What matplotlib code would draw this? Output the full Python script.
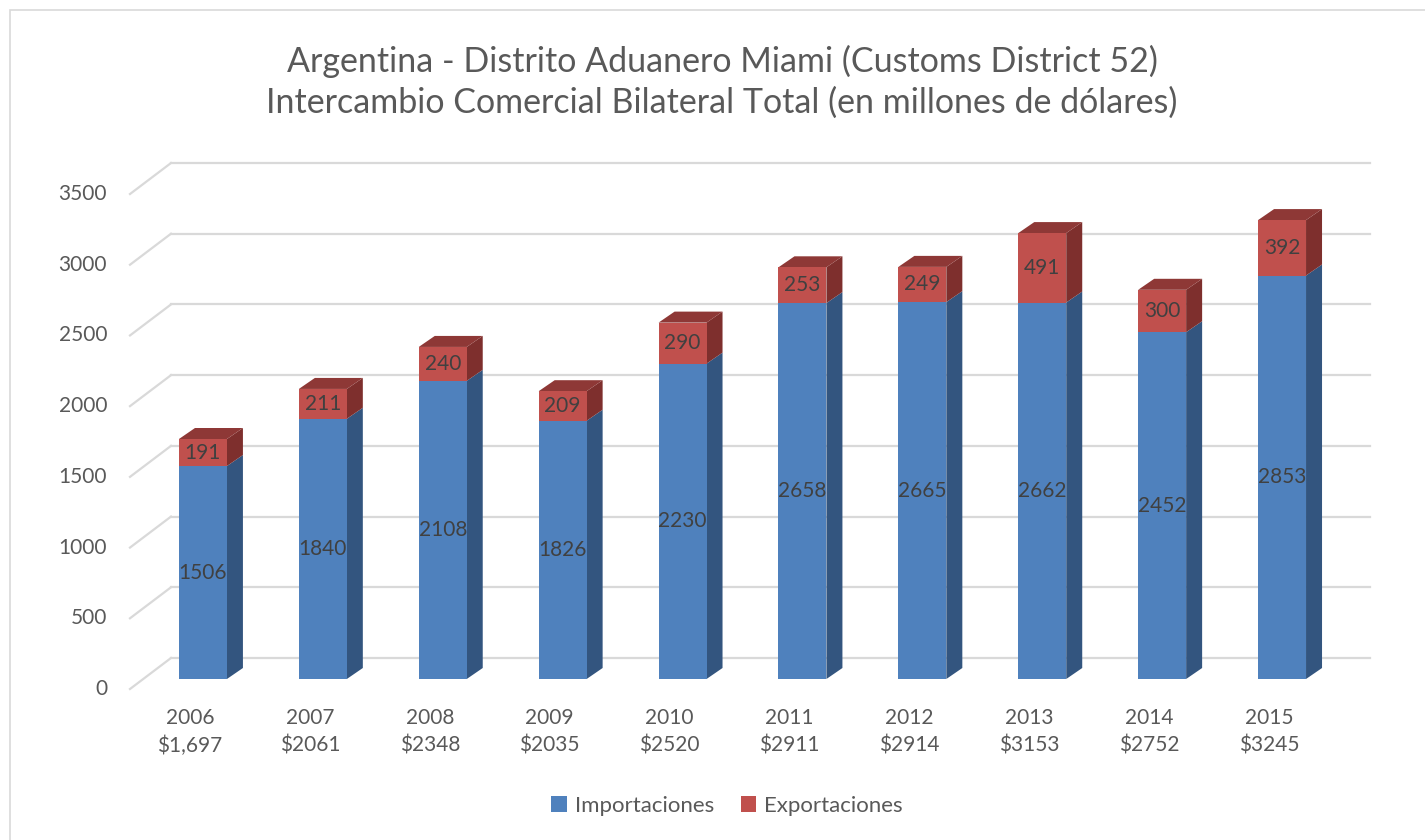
import matplotlib
matplotlib.use("Agg")
import matplotlib.pyplot as plt
from matplotlib.patches import Polygon, Rectangle

plt.rcParams['font.family'] = ['Lato', 'DejaVu Sans']

# ---- data ----
years = ['2006', '2007', '2008', '2009', '2010', '2011', '2012', '2013', '2014', '2015']
totals = ['$1,697', '$2061', '$2348', '$2035', '$2520', '$2911', '$2914', '$3153', '$2752', '$3245']
importaciones = [1506, 1840, 2108, 1826, 2230, 2658, 2665, 2662, 2452, 2853]
exportaciones = [191, 211, 240, 209, 290, 253, 249, 491, 300, 392]
yticks = [0, 500, 1000, 1500, 2000, 2500, 3000, 3500]
title = ("Argentina - Distrito Aduanero Miami (Customs District 52)\n"
         "Intercambio Comercial Bilateral Total (en millones de dólares)")

# ---- style ----
BLUE, BLUE_SIDE = '#4F81BD', '#33557F'
RED, RED_SIDE, RED_TOP = '#C0504D', '#7E2F2D', '#8E3836'
GRID = '#D9D9D9'
TXT = '#595959'
LBL = '#404040'
FS = 15

W, H = 1425, 840
fig = plt.figure(figsize=(W / 100, H / 100), dpi=100)
fig.patch.set_facecolor('white')

# chart border
fig.patches.append(Rectangle((10 / W, -0.05), 1.1, (H - 10) / H + 0.05,
                             transform=fig.transFigure, fill=False,
                             edgecolor=GRID, lw=1.2))

ax = fig.add_axes([143 / W, (H - 679) / H, 1199 / W, 516.2 / H])
ax.set_xlim(-0.5, 9.5)
ax.set_ylim(0, 3650)
ax.axis('off')

p0 = ax.transData.transform((0, 0))
p1 = ax.transData.transform((1, 1))
px_x = p1[0] - p0[0]
px_y = p1[1] - p0[1]


def dx(px):
    return px / px_x


def dy(px):
    return px / px_y


x = list(range(len(years)))
bw = 0.4

# back wall grid + floor diagonals
front_off = (dx(-13), dy(-10))
back_off = (dx(28), dy(21))
for v in yticks:
    ax.plot([-0.5 + back_off[0], 9.5 + back_off[0]], [v + back_off[1]] * 2,
            color=GRID, lw=1.6, clip_on=False, zorder=1)
    ax.plot([-0.5 + front_off[0], -0.5 + back_off[0]],
            [v + front_off[1], v + back_off[1]],
            color=GRID, lw=1.6, clip_on=False, zorder=1)
    ax.text(-0.5 + front_off[0] + dx(-23), v + front_off[1], str(v),
            ha='right', va='center', fontsize=FS, color=TXT)

# bars
b1 = ax.bar(x, importaciones, width=bw, color=BLUE, label='Importaciones', zorder=3)
b2 = ax.bar(x, exportaciones, width=bw, bottom=importaciones, color=RED,
            label='Exportaciones', zorder=3)

ddx, ddy = dx(16), dy(11)
for i, (imp, exp) in enumerate(zip(importaciones, exportaciones)):
    xr = i + bw / 2
    xl = i - bw / 2
    top = imp + exp
    # side faces
    ax.add_patch(Polygon([(xr, 0), (xr + ddx, ddy), (xr + ddx, imp + ddy), (xr, imp)],
                         closed=True, color=BLUE_SIDE, lw=0, zorder=2))
    ax.add_patch(Polygon([(xr, imp), (xr + ddx, imp + ddy), (xr + ddx, top + ddy), (xr, top)],
                         closed=True, color=RED_SIDE, lw=0, zorder=2))
    # top face
    ax.add_patch(Polygon([(xl, top), (xr, top), (xr + ddx, top + ddy), (xl + ddx, top + ddy)],
                         closed=True, color=RED_TOP, lw=0, zorder=2))
    # labels
    ax.text(i, imp / 2, str(imp), ha='center', va='center', fontsize=FS,
            color=LBL, zorder=5)
    ax.text(i, imp + exp / 2, str(exp), ha='center', va='center', fontsize=FS,
            color=LBL, zorder=5)
    # category labels
    ax.text(i + dx(-13), dy(-39), years[i], ha='center', va='center',
            fontsize=FS, color=TXT, clip_on=False)
    ax.text(i + dx(-13), dy(-67), totals[i], ha='center', va='center',
            fontsize=FS, color=TXT, clip_on=False)

fig.text(722 / W, 1 - 82 / H, title, ha='center', va='center', fontsize=24.5,
         color=TXT, linespacing=1.3)

fig.legend(handles=[b1, b2], loc='center', bbox_to_anchor=(727 / W, 1 - 806 / H),
           ncol=2, frameon=False, fontsize=16, handlelength=0.7, handleheight=0.7,
           handletextpad=0.35, columnspacing=1.2, labelcolor=TXT)

fig.savefig('out.png', dpi=100, facecolor='white')
